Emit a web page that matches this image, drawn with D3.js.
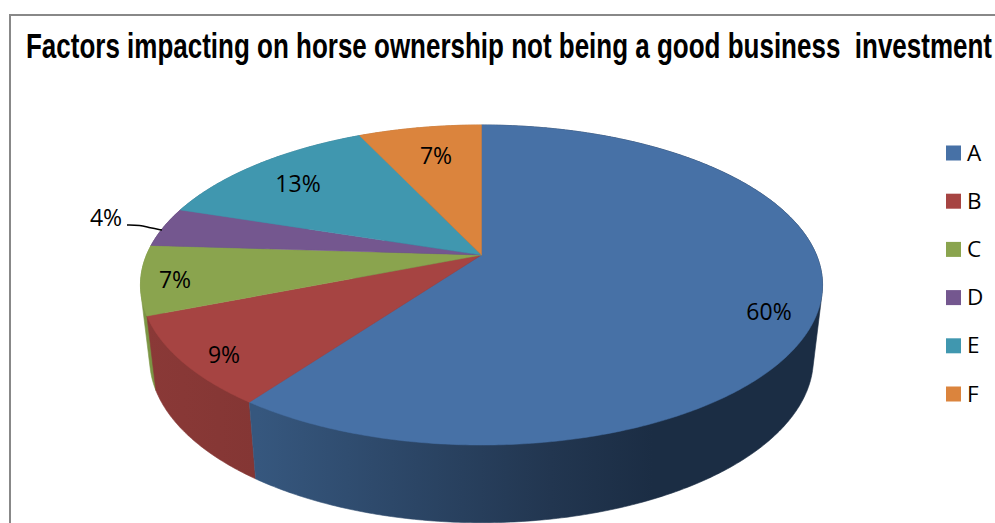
<!DOCTYPE html>
<html>
<head>
<meta charset="utf-8">
<script src="https://cdn.jsdelivr.net/npm/d3@7"></script>
<style>
html,body{margin:0;padding:0;background:#fff;overflow:hidden}
svg{display:block}
text{font-family:"Open Sans","Noto Sans",sans-serif;fill:#000}
</style>
</head>
<body>
<svg id="chart" width="995" height="523"></svg>
<script>
const titleText = "Factors impacting on horse ownership not being a good business  investment";
const categories = ["A", "B", "C", "D", "E", "F"];
const shares = [60, 9, 7, 4, 13, 7];
const topColors = ["#4771a6", "#a64442", "#8aa44e", "#74578f", "#4097af", "#db843d"];
const wallStops = [
  [[0, "#36577e"], [0.52, "#223650"], [0.7, "#1b2d44"], [1, "#1b2d44"]],
  [[0, "#8a3937"], [1, "#843634"]],
  [[0, "#7b9544"], [1, "#7b9544"]],
  [[0, "#5f4675"], [1, "#5f4675"]],
  [[0, "#34788d"], [1, "#34788d"]],
  [[0, "#b56d31"], [1, "#b56d31"]]
];
const labelAnchors = [[769, 311], [224, 354], [175, 279], [106, 217], [298, 183], [436, 155]];

const svg = d3.select("#chart");

// Chart frame, open on the right and at the bottom
svg.append("path")
  .attr("d", "M10,523V15H995")
  .attr("fill", "none").attr("stroke", "#888").attr("stroke-width", 2);

svg.append("text")
  .attr("x", 26).attr("y", 58)
  .attr("font-size", 34.5).attr("font-weight", 700)
  .attr("textLength", 966).attr("lengthAdjust", "spacingAndGlyphs")
  .style("font-family", "'Liberation Sans',Arial,sans-serif")
  .style("white-space", "pre")
  .attr("xml:space", "preserve")
  .text(titleText);

// Perspective disc: maps an angle on the unit circle to the screen
const tilt = 0.1875;
function rim(disc) {
  return angle => {
    const u = Math.sin(angle), v = -Math.cos(angle), d = 1 - tilt * v;
    return [disc.x + disc.b * u / d, disc.y + disc.a * v / d];
  };
}
const topDisc = {x: 481.5, y: 255, a: 154.4, b: 335};
const baseDisc = {x: 481.5, y: 328, a: 158.2, b: 326};
const topRim = rim(topDisc), baseRim = rim(baseDisc);

const arcs = d3.pie().sort(null).value(d => d)(shares);
const defs = svg.append("defs");

function arcAngles(a0, a1) {
  const n = Math.max(2, Math.ceil((a1 - a0) / 0.01));
  return d3.range(n + 1).map(i => a0 + (a1 - a0) * i / n);
}

// Side wall: hull of each slice's upper and lower rim, painted back to front
// so the top face hides everything but the front of the wall
const wall = svg.append("g");
arcs.map((arc, i) => ({arc, i})).reverse().forEach(({arc, i}) => {
  const angles = arcAngles(arc.startAngle, arc.endAngle);
  const points = angles.map(topRim).concat(angles.map(baseRim));
  const span = i === 0 ? [258, 822] : d3.extent(points, p => p[0]);
  const grad = defs.append("linearGradient").attr("id", "wall" + i)
    .attr("gradientUnits", "userSpaceOnUse")
    .attr("x1", span[0]).attr("x2", span[1]).attr("y1", 0).attr("y2", 0);
  wallStops[i].forEach(([offset, color]) => {
    grad.append("stop").attr("offset", offset).attr("stop-color", color);
  });
  wall.append("path")
    .attr("d", d3.line()(d3.polygonHull(points)) + "Z")
    .attr("fill", `url(#wall${i})`)
    .attr("stroke", `url(#wall${i})`).attr("stroke-width", 0.6);
});

// Top face
svg.append("g").selectAll("path").data(arcs).join("path")
  .attr("d", arc => d3.line()([[topDisc.x, topDisc.y], ...arcAngles(arc.startAngle, arc.endAngle).map(topRim)]) + "Z")
  .attr("fill", (d, i) => topColors[i])
  .attr("stroke", (d, i) => topColors[i]).attr("stroke-width", 0.5);

// Leader line for the small slice
svg.append("path")
  .attr("d", d3.line().curve(d3.curveBasis)([[127, 225], [140, 225], [150, 228], [162, 230]]))
  .attr("fill", "none").attr("stroke", "#000").attr("stroke-width", 1.5);

svg.append("g").selectAll("text").data(shares).join("text")
  .attr("x", (d, i) => labelAnchors[i][0])
  .attr("y", (d, i) => labelAnchors[i][1])
  .attr("text-anchor", "middle").attr("dominant-baseline", "central")
  .attr("font-size", 23)
  .text(d => d + "%");

// Legend
const legendY = d3.scalePoint().domain(categories).range([153, 394]);
const legend = svg.append("g").selectAll("g").data(categories).join("g")
  .attr("transform", d => `translate(946,${legendY(d)})`);
legend.append("rect").attr("x", 0).attr("y", -7.5).attr("width", 15).attr("height", 15)
  .attr("fill", (d, i) => topColors[i]);
legend.append("text").attr("x", 21).attr("y", -1)
  .attr("dominant-baseline", "central").attr("font-size", 22.5)
  .text(d => d);
</script>
</body>
</html>
